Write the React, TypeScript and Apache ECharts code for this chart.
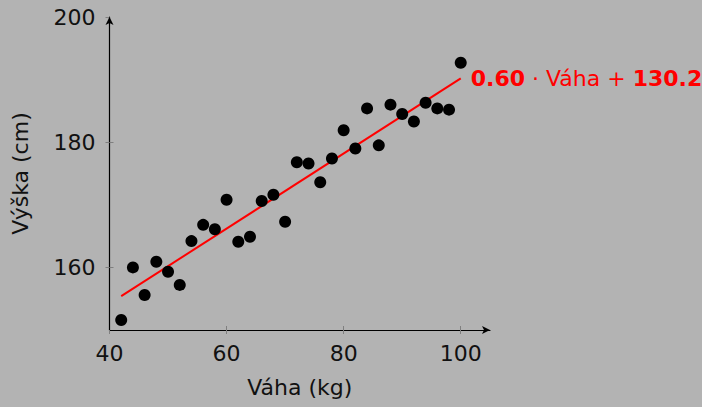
import React, { useEffect, useRef } from "react";
import * as echarts from "echarts";

const weights = [42, 44, 46, 48, 50, 52, 54, 56, 58, 60, 62, 64, 66, 68, 70, 72, 74, 76, 78, 80, 82, 84, 86, 88, 90, 92, 94, 96, 98, 100];
const heights = [151.6, 160.0, 155.6, 160.9, 159.3, 157.2, 164.2, 166.8, 166.1, 170.8, 164.1, 164.9, 170.6, 171.6, 167.3, 176.8, 176.6, 173.6, 177.4, 181.9, 179.0, 185.4, 179.5, 186.0, 184.5, 183.3, 186.3, 185.4, 185.2, 192.7];
const slope = 0.6;
const intercept = 130.2;
const fitRange = [42, 100];
const xTicks = [40, 60, 80, 100];
const yTicks = [160, 180, 200];

const FONT = "DejaVu Sans";
const FS = 22;
const TEXT = "#111111";
const TICK = "#7f7f7f";

export default function App() {
  const ref = useRef<HTMLDivElement>(null);
  useEffect(() => {
    document.body.style.margin = "0";
    const chart = echarts.init(ref.current!, null, { renderer: "svg" });
    const points = weights.map((w, i) => [w, heights[i]]);
    const fit = fitRange.map((x) => [x, +(slope * x + intercept).toFixed(2)]);
    const grid = { left: 109.5, right: 212, top: 17, bottom: 77 };
    chart.setOption({
      animation: false,
      backgroundColor: "#b3b3b3",
      textStyle: { fontFamily: FONT },
      grid,
      xAxis: [
        {
          type: "value",
          min: 40,
          max: 105,
          name: "Váha (kg)",
          nameLocation: "middle",
          nameGap: 46,
          nameTextStyle: { fontSize: FS, color: TEXT, fontFamily: FONT },
          axisLine: { show: true, lineStyle: { color: "#000", width: 1.2 }, symbol: ["none", "arrow"], symbolSize: [6, 8] },
          axisTick: { show: true, length: 4, lineStyle: { color: TICK }, customValues: xTicks },
          axisLabel: { fontSize: FS, color: TEXT, margin: 12, customValues: xTicks, fontFamily: FONT },
          splitLine: { show: false },
        },
        {
          type: "value",
          min: 40,
          max: 105,
          axisLine: { show: false },
          axisTick: { show: true, inside: true, length: 4, lineStyle: { color: TICK }, customValues: xTicks.slice(1) },
          axisLabel: { show: false },
          splitLine: { show: false },
          position: "bottom",
        },
      ],
      yAxis: [
        {
          type: "value",
          min: 150,
          max: 200,
          name: "Výška (cm)",
          nameLocation: "middle",
          nameGap: 78,
          nameTextStyle: { fontSize: FS, color: TEXT, fontFamily: FONT },
          axisLine: { show: true, lineStyle: { color: "#000", width: 1.2 }, symbol: ["none", "arrow"], symbolSize: [6, 8] },
          axisTick: { show: true, length: 4, lineStyle: { color: TICK }, customValues: yTicks },
          axisLabel: { fontSize: FS, color: TEXT, margin: 14, customValues: yTicks, fontFamily: FONT },
          splitLine: { show: false },
        },
        {
          type: "value",
          min: 150,
          max: 200,
          position: "left",
          axisLine: { show: false },
          axisTick: { show: true, inside: true, length: 4, lineStyle: { color: TICK }, customValues: yTicks.slice(0, 2) },
          axisLabel: { show: false },
          splitLine: { show: false },
        },
      ],
      series: [
        {
          type: "line",
          data: fit,
          symbol: "none",
          lineStyle: { color: "#ff0000", width: 2 },
          z: 2,
          endLabel: {
            show: true,
            distance: 10,
            color: "#ff0000",
            fontSize: FS,
            fontFamily: FONT,
            formatter: () => `{b|${slope.toFixed(2)}} · Váha + {b|${intercept.toFixed(1)}}`,
            rich: {
              b: { fontWeight: "bold", fontSize: FS, color: "#ff0000", fontFamily: FONT },
            },
          },
        },
        {
          type: "scatter",
          data: points,
          symbol: "circle",
          symbolSize: 12,
          itemStyle: { color: "#000", opacity: 1 },
          z: 3,
        },
      ],
    });
    return () => chart.dispose();
  }, []);
  return <div ref={ref} style={{ width: 702, height: 407, position: "absolute", left: 0, top: 0 }} />;
}
